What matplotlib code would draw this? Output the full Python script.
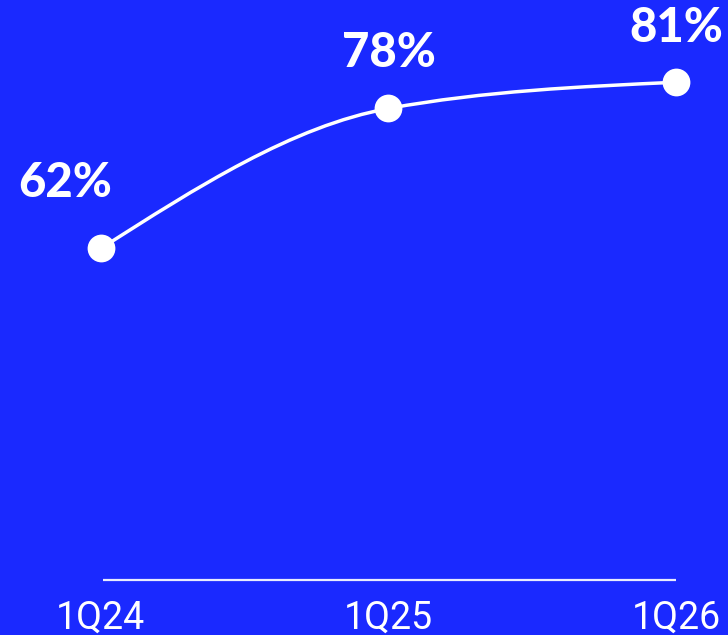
#!/usr/bin/env python
"""Share by quarter: white smoothed line on a blue panel."""
from matplotlib import pyplot as plt
from matplotlib.path import Path
from matplotlib.patches import PathPatch
import numpy as np

quarters = ['1Q24', '1Q25', '1Q26']
share = [62, 78, 81]
label_offsets = [(-26, 47), (0, 40), (0, 39)]   # points, label centre vs marker

BLUE = '#1A29FF'


def monotone_path(x, y):
    """Build a cubic Bezier path like d3.curveMonotoneX through the points."""
    x = np.asarray(x, float)
    y = np.asarray(y, float)
    n = len(x)
    h = np.diff(x)
    s = np.diff(y) / h
    t = np.zeros(n)
    for i in range(1, n - 1):
        p = (s[i - 1] * h[i] + s[i] * h[i - 1]) / (h[i - 1] + h[i])
        t[i] = (np.sign(s[i - 1]) + np.sign(s[i])) * min(abs(s[i - 1]), abs(s[i]), 0.5 * abs(p))
    t[0] = (3 * s[0] - t[1]) / 2
    t[-1] = (3 * s[-1] - t[-2]) / 2
    verts = [(x[0], y[0])]
    codes = [Path.MOVETO]
    for i in range(n - 1):
        dx = h[i] / 3
        verts += [(x[i] + dx, y[i] + dx * t[i]),
                  (x[i + 1] - dx, y[i + 1] - dx * t[i + 1]),
                  (x[i + 1], y[i + 1])]
        codes += [Path.CURVE4] * 3
    return Path(verts, codes)


def main():
    fig = plt.figure(figsize=(7.28, 6.35), dpi=100, facecolor=BLUE)
    ax = fig.add_axes([0, 55 / 635, 1, 580 / 635])
    ax.set_facecolor(BLUE)

    xs = np.arange(len(quarters))
    ax.set_xlim(-0.351, 2.181)
    ax.set_ylim(24.1, 90.4)

    ax.add_patch(PathPatch(monotone_path(xs, share), facecolor='none',
                           edgecolor='white', lw=2.5, capstyle='round', zorder=2))
    ax.plot(xs, share, 'o', color='white', markersize=20, markeredgewidth=0, zorder=3)

    for x, v, off in zip(xs, share, label_offsets):
        ax.annotate(f'{v}%', (x, v), xytext=off, textcoords='offset points',
                    ha='center', va='center', color='white', fontsize=34,
                    fontfamily='Lato', fontweight=900)

    # baseline under the chart
    ax.hlines(24.1, 0.007, 2, colors='#E8EAFF', lw=1.6, clip_on=False)

    ax.set_xticks(xs, quarters)
    ax.tick_params(axis='x', length=0, pad=14, labelcolor='white', labelsize=27)
    for lbl in ax.get_xticklabels():
        lbl.set_fontfamily('Roboto')
    ax.set_yticks([])
    for sp in ax.spines.values():
        sp.set_visible(False)

    fig.savefig('out.png', dpi=100, facecolor=BLUE)


if __name__ == '__main__':
    main()
